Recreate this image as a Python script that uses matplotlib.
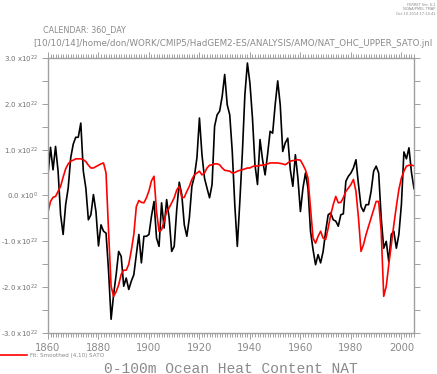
import numpy as np
import matplotlib
matplotlib.use("Agg")
import matplotlib.pyplot as plt
from matplotlib.ticker import MultipleLocator, FuncFormatter

# OHC anomaly, units of 1e22
years = np.arange(1860, 2006)
ohc = [0.45, 1.05, 0.56, 1.07, 0.53, -0.42, -0.85, -0.2, 0.16, 0.82,
       1.12, 1.27, 1.27, 1.58, 0.53, 0.16, -0.53, -0.42, 0.02, -0.35,
       -1.1, -0.64, -0.78, -0.82, -1.65, -2.7, -2.16, -1.73, -1.22, -1.33,
       -1.98, -1.8, -2.05, -1.87, -1.73, -1.29, -0.85, -1.47, -0.89, -0.89,
       -0.85, -0.45, -0.13, -0.93, -1.11, -0.16, -0.71, -0.09, -0.49, -1.22,
       -1.11, -0.31, 0.29, 0.02, -0.64, -0.89, -0.49, 0.2, 0.42, 0.82,
       1.69, 0.89, 0.38, 0.16, -0.05, 0.24, 1.51, 1.76, 1.84, 2.16,
       2.64, 1.98, 1.76, 0.96, -0.2, -1.11, -0.13, 0.93, 2.2, 2.89,
       2.45, 1.69, 0.67, 0.24, 1.22, 0.78, 0.45, 0.9, 1.4, 1.36,
       1.98, 2.5, 1.98, 0.96, 1.15, 1.25, 0.56, 0.2, 0.89, 0.38,
       -0.35, 0.16, 0.49, 0.16, -0.78, -1.18, -1.51, -1.29, -1.47, -1.22,
       -0.78, -0.42, -0.38, -0.53, -0.56, -0.67, -0.42, -0.4, 0.31, 0.42,
       0.49, 0.6, 0.78, 0.24, -0.24, -0.35, -0.2, -0.2, 0.09, 0.53,
       0.64, 0.49, -0.49, -1.15, -1.0, -1.44, -0.85, -0.78, -1.15, -0.85,
       -0.2, 0.95, 0.8, 1.04, 0.5, 0.15]

fit = [-0.36, -0.13, -0.04, -0.02, 0.09, 0.2, 0.4, 0.58, 0.69, 0.75,
       0.77, 0.8, 0.8, 0.8, 0.78, 0.74, 0.66, 0.6, 0.6, 0.63,
       0.66, 0.69, 0.71, 0.49, -0.78, -1.98, -2.2, -2.1, -1.95, -1.72,
       -1.63, -1.63, -1.5, -1.2, -0.85, -0.24, -0.11, -0.15, -0.16, -0.05,
       0.1, 0.32, 0.42, -0.35, -0.78, -0.75, -0.56, -0.35, -0.27, -0.16,
       -0.05, 0.12, 0.2, -0.05, -0.04, 0.09, 0.2, 0.35, 0.45, 0.49,
       0.53, 0.45, 0.49, 0.6, 0.66, 0.67, 0.69, 0.69, 0.67, 0.6,
       0.55, 0.54, 0.53, 0.49, 0.5, 0.53, 0.55, 0.56, 0.58, 0.6,
       0.6, 0.63, 0.65, 0.64, 0.66, 0.66, 0.67, 0.69, 0.71, 0.71,
       0.71, 0.71, 0.7, 0.69, 0.67, 0.71, 0.75, 0.76, 0.77, 0.78,
       0.77, 0.67, 0.56, 0.38, -0.27, -0.93, -1.04, -0.89, -0.78, -0.93,
       -0.96, -0.71, -0.42, -0.2, -0.02, -0.16, -0.15, -0.05, 0.09, 0.16,
       0.24, 0.35, 0.09, -0.49, -1.22, -1.07, -0.85, -0.67, -0.49, -0.31,
       -0.13, -0.13, -0.78, -2.2, -1.98, -1.51, -1.07, -0.64, -0.24, 0.13,
       0.38, 0.53, 0.64, 0.66, 0.66, 0.65]

gris = "#8a8a8a"
fig = plt.figure(figsize=(4.37, 3.74), dpi=100)
ax = fig.add_axes([0.1098, 0.1096, 0.8376, 0.7354])

ax.plot(years, ohc, color="black", lw=1.2)
ax.plot(years, fit, color="#ff0000", lw=1.2)

ax.set_xlim(1860, 2005)
ax.set_ylim(-3, 3)
ax.xaxis.set_major_locator(MultipleLocator(20))
ax.xaxis.set_minor_locator(MultipleLocator(1))
ax.yaxis.set_major_locator(MultipleLocator(1))
ax.yaxis.set_minor_locator(MultipleLocator(0.5))

def etiket(v, pos):
    if abs(v) < 1e-9:
        return "0.0 x10$^{0}$"
    return "%.1f x10$^{22}$" % v

ax.yaxis.set_major_formatter(FuncFormatter(etiket))
for s in ax.spines.values():
    s.set_color("#a0a0a0")
    s.set_linewidth(1.0)
ax.tick_params(which="both", direction="out", top=True, right=True,
               color="#a0a0a0", width=0.7)
ax.tick_params(which="major", length=4)
ax.tick_params(which="minor", length=2.8)
ax.tick_params(axis="y", which="minor", length=4)
ax.tick_params(axis="x", labelsize=7.2, labelcolor=gris, pad=3)
ax.tick_params(axis="y", labelsize=5.0, labelcolor="#707070", pad=3)

fig.text(0.099, 0.922, "CALENDAR: 360_DAY", fontsize=5.8, color=gris,
         va="center", ha="left")
fig.text(0.076, 0.885,
         "[10/10/14]/home/don/WORK/CMIP5/HadGEM2-ES/ANALYSIS/AMO/NAT_OHC_UPPER_SATO.jnl",
         fontsize=6.3, color=gris, va="center", ha="left")
fig.text(0.996, 0.992, "FERRET Ver. 6.1\nNOAA/PMEL TMAP\nOct 10 2014 17:14:41",
         fontsize=2.6, color=gris, va="top", ha="right", linespacing=1.1)

fig.add_artist(plt.Line2D([0.0, 0.062], [0.05, 0.05], color="#ff0000", lw=1.2))
fig.text(0.069, 0.05, "Fit: Smoothed (4,10) SATO", fontsize=4.1, color=gris,
         va="center", ha="left")
fig.text(0.529, 0.004, "0-100m Ocean Heat Content NAT", fontsize=10.5,
         family="Liberation Mono", color=gris, va="baseline", ha="center")

fig.savefig("out.png", dpi=100)
